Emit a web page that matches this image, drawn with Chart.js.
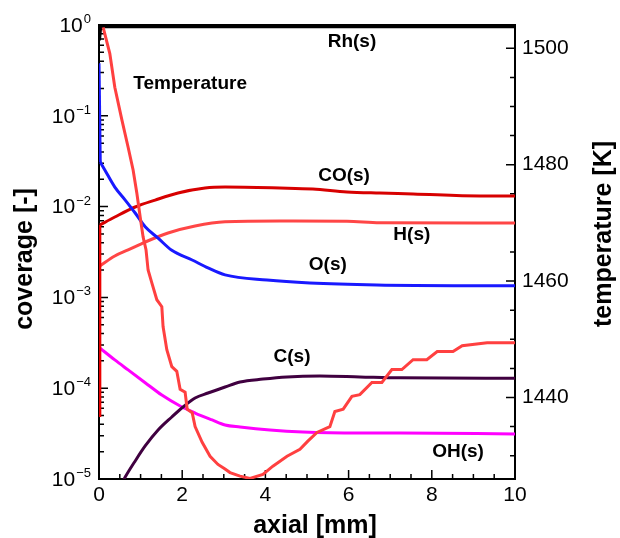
<!DOCTYPE html>
<html>
<head>
<meta charset="utf-8">
<script src="https://cdn.jsdelivr.net/npm/chart.js@4.4.1/dist/chart.umd.min.js"></script>
<style>
  html, body { margin: 0; padding: 0; background: #fff; }
  #out { display: block; }
</style>
</head>
<body>
<canvas id="out" width="620" height="538"></canvas>
<script>
// axial position [mm] and coverage [-] / temperature [K]
const rhX = [0, 0.03, 10];
const rhY = [0.68, 0.97, 0.97];

// the inlet jumps at x = 0 are kept apart from the smooth curves
const coInletX = [0, 0.02];
const coInletY = [5e-5, 0.00627];
const coX = [0.02, 0.38, 0.87, 1.35, 1.90, 2.55, 3.03, 4.35, 5.14, 5.96, 6.75, 7.55, 9.16, 10];
const coY = [0.00627, 0.00768, 0.0099, 0.0118, 0.0141, 0.0160, 0.0164, 0.0160, 0.0156, 0.0145, 0.0141, 0.0138, 0.0131, 0.0131];

const hX = [0.02, 0.38, 0.70, 1.11, 1.66, 2.31, 3.03, 4.35, 5.96, 6.75, 10];
const hY = [0.00222, 0.00286, 0.00333, 0.00407, 0.00512, 0.00611, 0.00680, 0.00694, 0.00690, 0.00662, 0.00659];

const oInletX = [0, 0.03];
const oInletY = [0.38, 0.031];
const oX = [0.03, 0.14, 0.38, 0.63, 0.87, 1.11, 1.42, 1.75, 2.24, 2.62, 3.03, 4.04, 5.07, 6.68, 10];
const oY = [0.031, 0.0253, 0.0164, 0.0118, 0.0085, 0.0060, 0.0045, 0.0033, 0.00258, 0.00211, 0.00177, 0.00155, 0.00144, 0.00137, 0.00134];

const cX = [0.5, 0.63, 0.87, 1.11, 1.42, 1.75, 2.02, 2.31, 2.62, 3.03, 3.39, 3.94, 4.52, 5.31, 6.27, 7.24, 10];
const cY = [8.1e-6, 1.05e-5, 1.58e-5, 2.31e-5, 3.46e-5, 4.82e-5, 6.21e-5, 7.8e-5, 8.85e-5, 1.03e-4, 1.17e-4, 1.26e-4, 1.33e-4, 1.36e-4, 1.33e-4, 1.30e-4, 1.29e-4];

const ohX = [0.02, 0.38, 0.70, 1.11, 1.51, 1.95, 2.31, 2.72, 3.03, 3.39, 4.11, 4.90, 6.27, 7.24, 10];
const ohY = [2.77e-4, 2.05e-4, 1.59e-4, 1.15e-4, 8.4e-5, 6.37e-5, 5.33e-5, 4.47e-5, 3.94e-5, 3.74e-5, 3.46e-5, 3.29e-5, 3.21e-5, 3.21e-5, 3.13e-5];

const tempX = [0.10, 0.26, 0.38, 0.55, 0.70, 0.82, 0.91, 0.99, 1.06, 1.13, 1.18, 1.27, 1.39, 1.51, 1.54, 1.63, 1.75, 1.87, 1.95, 2.07, 2.12, 2.24, 2.31, 2.48, 2.67, 2.86, 3.03, 3.15, 3.39, 3.63, 3.94, 4.18, 4.52, 4.83, 5.02, 5.24, 5.55, 5.67, 5.87, 6.08, 6.27, 6.56, 6.80, 7.04, 7.28, 7.55, 7.88, 8.13, 8.51, 8.73, 9.33, 10];
const tempY = [1503.6, 1499.1, 1493.3, 1487.7, 1483.0, 1479.1, 1475.1, 1471.0, 1467.6, 1465.4, 1461.9, 1459.7, 1456.8, 1455.6, 1452.2, 1448.2, 1445.3, 1444.5, 1441.4, 1440.9, 1438.0, 1437.4, 1435.0, 1432.3, 1429.9, 1428.5, 1427.7, 1427.1, 1426.5, 1426.1, 1426.8, 1428.2, 1429.9, 1431.1, 1432.5, 1434.0, 1435.0, 1437.6, 1438.0, 1440.2, 1440.5, 1442.6, 1442.6, 1444.8, 1444.8, 1446.5, 1446.5, 1447.9, 1447.9, 1448.9, 1449.4, 1449.4];

const xTicks = [0, 2, 4, 6, 8, 10];
const covTicks = [0, -1, -2, -3, -4, -5];     // exponents of ten
const tempTicks = [1440, 1460, 1480, 1500];

// curve labels, anchored in data units
const labelText = ["Rh(s)", "Temperature", "CO(s)", "H(s)", "O(s)", "C(s)", "OH(s)"];
const labelX = [6.08, 2.19, 5.89, 7.52, 5.50, 4.64, 8.63];
const labelY = [0.65, 0.224, 0.0217, 0.00487, 0.00227, 2.21e-4, 1.98e-5];

const FONT = "'Liberation Sans', Arial, sans-serif";

function pts(xs, ys) {
  return xs.map((x, i) => ({ x: x, y: ys[i] }));
}

function line(label, xs, ys, color, axis, width, smooth) {
  return {
    label: label,
    data: pts(xs, ys),
    borderColor: color,
    backgroundColor: color,
    borderWidth: width || 3,
    pointRadius: 0,
    fill: false,
    cubicInterpolationMode: smooth ? "monotone" : "default",
    tension: 0,
    yAxisID: axis
  };
}

const decor = {
  id: "decor",
  beforeDatasetsDraw(chart) {
    const ctx = chart.ctx;
    const a = chart.chartArea;
    const sx = chart.scales.x, sy = chart.scales.y, st = chart.scales.y2;
    ctx.save();

    // frame
    ctx.strokeStyle = "#000";
    ctx.lineWidth = 2;
    ctx.strokeRect(a.left, a.top, a.right - a.left, a.bottom - a.top);

    // inward tick marks
    ctx.lineWidth = 1.5;
    ctx.beginPath();
    for (let v = 0; v <= 10.001; v += 0.5) {
      const px = sx.getPixelForValue(v);
      const len = Math.abs(v % 2) < 1e-6 ? 9 : 5;
      ctx.moveTo(px, a.bottom);
      ctx.lineTo(px, a.bottom - len);
    }
    for (let e = -5; e <= 0; e++) {
      for (let m = 1; m <= 9; m++) {
        const v = m * Math.pow(10, e);
        if (v > 1.0001) break;
        const py = sy.getPixelForValue(v);
        ctx.moveTo(a.left, py);
        ctx.lineTo(a.left + (m === 1 ? 9 : 5), py);
      }
    }
    for (let v = 1430; v <= 1500; v += 5) {
      const py = st.getPixelForValue(v);
      ctx.moveTo(a.right, py);
      ctx.lineTo(a.right - (v % 20 === 0 ? 9 : 5), py);
    }
    ctx.stroke();
    ctx.restore();
  },
  afterDatasetsDraw(chart) {
    const ctx = chart.ctx;
    const a = chart.chartArea;
    const sx = chart.scales.x, sy = chart.scales.y;
    ctx.save();

    // left tick labels 10^n
    ctx.fillStyle = "#000";
    covTicks.forEach(e => {
      const py = sy.getPixelForValue(Math.pow(10, e));
      const exp = String(e).replace("-", "\u2212");
      ctx.font = "13px " + FONT;
      const w = ctx.measureText(exp).width;
      ctx.textAlign = "left";
      ctx.textBaseline = "alphabetic";
      ctx.fillText(exp, 91 - w, py - 2);
      ctx.font = "21px " + FONT;
      ctx.textAlign = "right";
      ctx.textBaseline = "middle";
      ctx.fillText("10", 91 - w - 1, py + 1);
    });

    // curve labels
    ctx.font = "bold 19px " + FONT;
    ctx.textAlign = "center";
    ctx.textBaseline = "middle";
    labelText.forEach((t, i) => {
      ctx.fillText(t, sx.getPixelForValue(labelX[i]), sy.getPixelForValue(labelY[i]));
    });

    // axis titles
    ctx.font = "bold 25px " + FONT;
    ctx.textBaseline = "alphabetic";
    ctx.fillText("axial [mm]", (a.left + a.right) / 2 + 8, 533);

    ctx.textBaseline = "middle";
    ctx.translate(25, (a.top + a.bottom) / 2 + 7);
    ctx.rotate(-Math.PI / 2);
    ctx.fillText("coverage [-]", 0, 0);
    ctx.setTransform(1, 0, 0, 1, 0, 0);
    ctx.translate(604, 234);
    ctx.rotate(-Math.PI / 2);
    ctx.fillText("temperature [K]", 0, 0);
    ctx.restore();
  }
};

const chartConfig = {
  type: "line",
  data: {
    datasets: [
      line("Temperature", tempX, tempY, "rgb(255,64,64)", "y2", 3, false),
      line("Rh(s)", rhX, rhY, "#000000", "y", 4, false),
      line("O(s) inlet", oInletX, oInletY, "rgb(25,25,255)", "y", 3, false),
      line("O(s)", oX, oY, "rgb(25,25,255)", "y", 3, true),
      line("CO(s) inlet", coInletX, coInletY, "rgb(235,0,0)", "y", 3, false),
      line("CO(s)", coX, coY, "rgb(215,0,0)", "y", 3, true),
      line("H(s)", hX, hY, "rgb(255,70,70)", "y", 3, true),
      line("C(s)", cX, cY, "rgb(64,0,64)", "y", 3, true),
      line("OH(s)", ohX, ohY, "rgb(255,0,255)", "y", 3, true)
    ]
  },
  options: {
    responsive: false,
    animation: false,
    devicePixelRatio: 1,
    layout: { padding: { top: 25, left: 0, right: 0, bottom: 0 } },
    plugins: { legend: { display: false }, tooltip: { enabled: false } },
    scales: {
      x: {
        type: "linear",
        min: 0,
        max: 10,
        grid: { display: false, drawTicks: false },
        border: { display: false },
        afterBuildTicks: s => { s.ticks = xTicks.map(v => ({ value: v })); },
        afterFit: s => { s.height = 59; },
        ticks: { color: "#000", font: { family: FONT, size: 21 }, padding: 4, maxRotation: 0,
                 callback: v => String(v) }
      },
      y: {
        type: "logarithmic",
        position: "left",
        min: 1e-5,
        max: 1,
        grid: { display: false, drawTicks: false },
        border: { display: false },
        ticks: { display: false },
        afterFit: s => { s.width = 99; }
      },
      y2: {
        type: "linear",
        position: "right",
        min: 1426,
        max: 1504,
        grid: { display: false, drawTicks: false },
        border: { display: false },
        afterBuildTicks: s => { s.ticks = tempTicks.map(v => ({ value: v })); },
        afterFit: s => { s.width = 105; },
        ticks: { color: "#000", font: { family: FONT, size: 21 }, padding: 7,
                 callback: v => String(v) }
      }
    }
  },
  plugins: [decor]
};

window.chart = new Chart(document.getElementById("out").getContext("2d"), chartConfig);
</script>
</body>
</html>
